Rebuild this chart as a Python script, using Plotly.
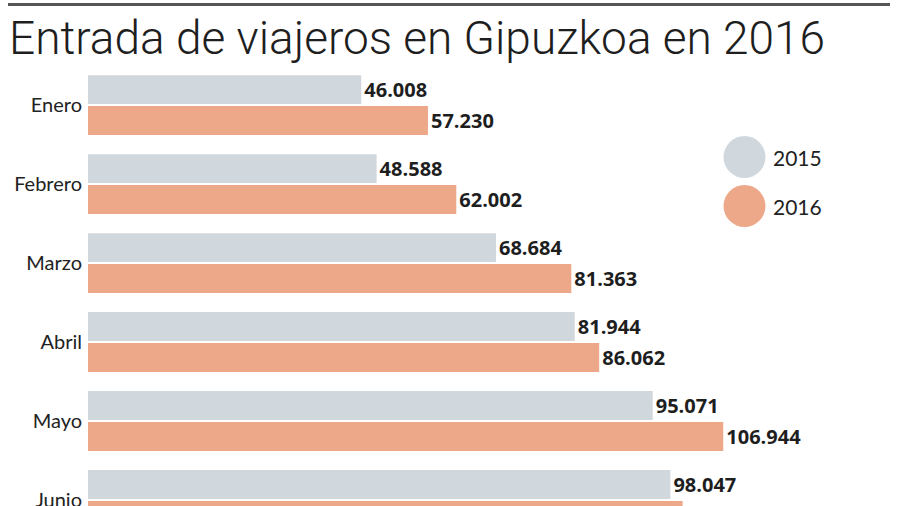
import plotly.graph_objects as go

months = ["Enero", "Febrero", "Marzo", "Abril", "Mayo", "Junio"]
values_2015 = [46008, 48588, 68684, 81944, 95071, 98047]
values_2016 = [57230, 62002, 81363, 86062, 106944, 100100]
series_names = ["2015", "2016"]
title_text = "Entrada de viajeros en Gipuzkoa en 2016"

color_2015 = "#d1d8dd"
color_2016 = "#eda88a"
label_font = "Lato"

fig = go.Figure()
for name, vals, col in zip(series_names, [values_2015, values_2016], [color_2015, color_2016]):
    fig.add_trace(go.Bar(
        y=months, x=vals, orientation="h", name=name,
        marker=dict(color=col, line=dict(width=0)),
        texttemplate="%{x:,.0f}", textposition="outside",
        constraintext="none", cliponaxis=True,
        textfont=dict(family="Open Sans", size=20, color="#1e1e1e", weight=700),
        hoverinfo="skip",
    ))

W, H = 900, 506
L, T = 88, 66
plot_w = W - L
plot_h = H - T

fig.update_layout(
    width=W, height=H,
    margin=dict(l=L, r=0, t=T, b=0, autoexpand=False),
    paper_bgcolor="white", plot_bgcolor="white",
    barmode="group", bargap=0.22, bargroupgap=0.06,
    showlegend=False,
    separators=",.",
    xaxis=dict(visible=False, range=[0, 136700], automargin=False),
    yaxis=dict(
        categoryorder="array", categoryarray=months, automargin=False,
        range=[5.076, -0.494], showgrid=False, showline=False, zeroline=False,
        ticks="outside", ticklen=1, tickcolor="rgba(0,0,0,0)",
        tickfont=dict(family=label_font, size=20, color="#222"),
    ),
    title=dict(
        text=title_text, xref="container", yref="container",
        x=9 / W, xanchor="left", y=1 - 38 / H, yanchor="middle",
        font=dict(family="Roboto", size=46, color="#1e1e1e", weight=300),
    ),
)

def px_x(x):
    return (x - L) / plot_w

def px_y(y):
    return (H - y) / plot_h

# top rule
fig.add_shape(type="line", xref="paper", yref="paper",
              x0=px_x(8), x1=px_x(890), y0=px_y(4.5), y1=px_y(4.5),
              line=dict(color="#555", width=3))

# legend
r = 21
for i, (name, col) in enumerate(zip(series_names, [color_2015, color_2016])):
    cy = 157 + 49 * i
    cx = 744.5
    fig.add_shape(type="circle", xref="paper", yref="paper",
                  x0=px_x(cx - r), x1=px_x(cx + r), y0=px_y(cy + r), y1=px_y(cy - r),
                  fillcolor=col, line=dict(width=0))
    fig.add_annotation(text=name, xref="paper", yref="paper",
                       x=px_x(771), y=px_y(cy), xanchor="left", yanchor="middle",
                       showarrow=False,
                       font=dict(family=label_font, size=21, color="#222"))

fig.write_html("out.html", config={"displayModeBar": False},
               post_script="document.body.style.margin='0';document.body.style.overflow='hidden';")
